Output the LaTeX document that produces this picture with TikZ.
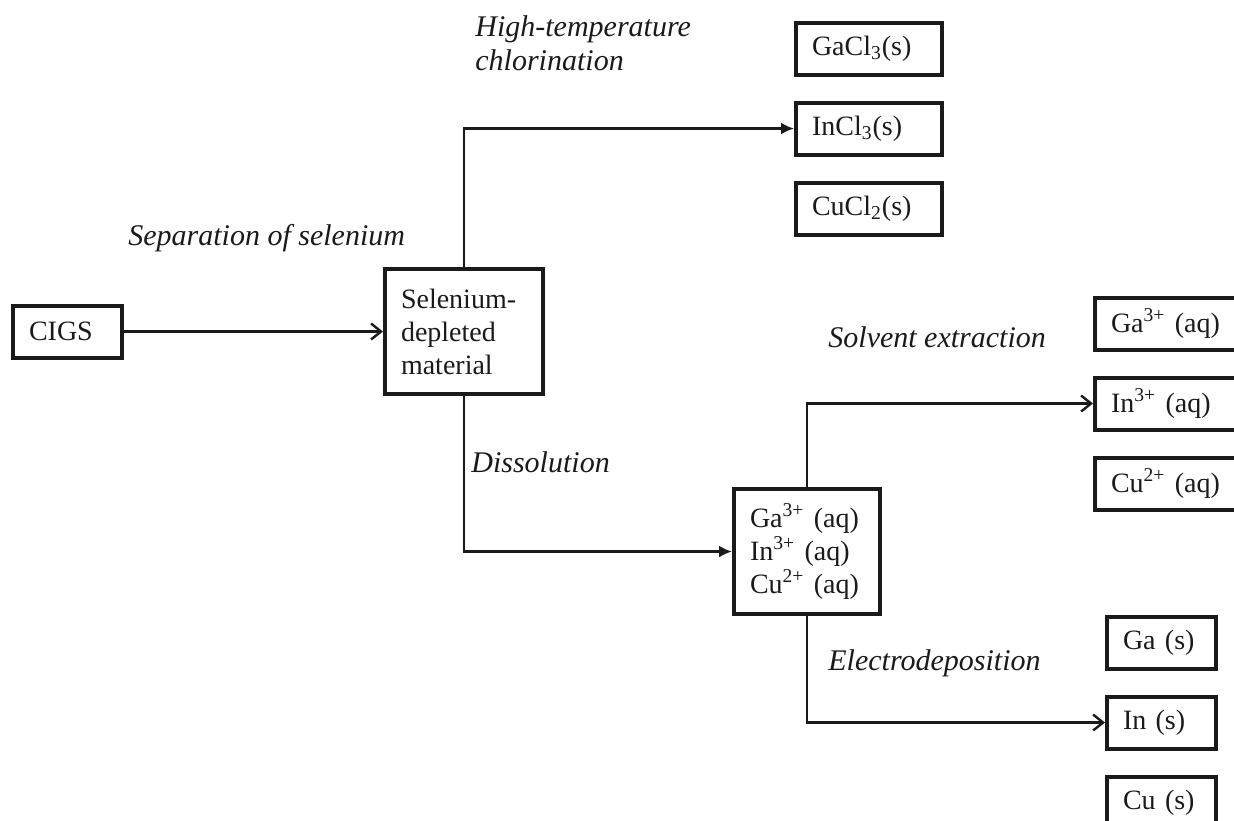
\documentclass[tikz,border=0pt]{standalone}
\usepackage{fontspec}
\setmainfont{Liberation Serif}
\usepackage{tikz}
\usetikzlibrary{arrows.meta,positioning}
\definecolor{ink}{HTML}{1A1A1A}

\begin{document}
\begin{tikzpicture}[
    x=0.5pt, y=-0.5pt,
    line join=miter,
    node distance=12pt,
    stepbase/.style={draw=ink, line width=2pt, inner xsep=8pt, inner ysep=3pt, align=left, minimum height=26pt, text=ink, font=\fontsize{14}{16.5}\selectfont},
    cigsbox/.style={stepbase, text width=38.5pt},
    selbox/.style={stepbase, text width=63pt, minimum height=62.5pt},
    mixbox/.style={stepbase, text width=57pt, minimum height=62.5pt},
    chlbox/.style={stepbase, text width=57pt},
    aqbox/.style={stepbase, text width=57pt},
    solidbox/.style={stepbase, text width=38.5pt},
    flow/.style={draw=ink, line width=1.2pt, -{Straight Barb[length=5pt,width=8pt,line width=1.2pt]}},
    flowfill/.style={draw=ink, line width=1.2pt, -{Latex[length=6.5pt,width=6pt]}},
    procname/.style={font=\fontsize{15}{17}\selectfont\itshape, text=ink, inner sep=0pt, align=left}
]
\useasboundingbox (0,0) rectangle (1234,820);

% Main nodes
\node[cigsbox, anchor=west] (cigs) at (11,331.5) {CIGS};
\node[selbox] (sel) at (464,331.5) {Selenium-\\depleted\\material};
\node[mixbox] (mix) at (807,551.5) {Ga\textsuperscript{3+} (aq)\\In\textsuperscript{3+} (aq)\\Cu\textsuperscript{2+} (aq)};

% Chlorination products
\node[chlbox, anchor=west] (incl) at (794,128.5) {InCl\textsubscript{3}(s)};
\node[chlbox, above=of incl] (gacl) {GaCl\textsubscript{3}(s)};
\node[chlbox, below=of incl] (cucl) {CuCl\textsubscript{2}(s)};

% Solvent extraction products
\node[aqbox, anchor=west] (inaq) at (1093,403.5) {In\textsuperscript{3+} (aq)};
\node[aqbox, above=of inaq] (gaaq) {Ga\textsuperscript{3+} (aq)};
\node[aqbox, below=of inaq] (cuaq) {Cu\textsuperscript{2+} (aq)};

% Electrodeposition products
\node[solidbox, anchor=west] (ins) at (1105,722.5) {In (s)};
\node[solidbox, above=of ins] (gas) {Ga (s)};
\node[solidbox, below=of ins] (cus) {Cu (s)};

% Process labels
\node[procname, anchor=base west] (lblchl) at (475,70) {High-temperature\\chlorination};
\node[procname, anchor=base west] (lblsep) at (128,245) {Separation of selenium};
\node[procname, anchor=base west] (lbldis) at (471,472) {Dissolution};
\node[procname, anchor=base west] (lblext) at (828,347) {Solvent extraction};
\node[procname, anchor=base west] (lblele) at (828,670) {Electrodeposition};

% Arrows
\draw[flow] (cigs) -- (sel);
\draw[flowfill] (sel.north) |- (incl.west);
\draw[flowfill] (sel.south) |- (mix.west);
\draw[flow] (mix.north) |- (inaq.west);
\draw[flow] (mix.south) |- (ins.west);

\end{tikzpicture}
\end{document}
